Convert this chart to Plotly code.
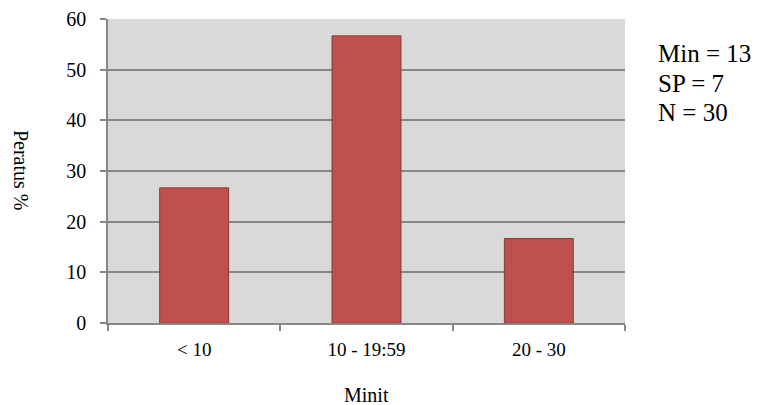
import plotly.graph_objects as go

categories = ["< 10", "10 - 19:59", "20 - 30"]
values = [26.67, 56.67, 16.67]
y_ticks = [0, 10, 20, 30, 40, 50, 60]
stats_lines = ["Min = 13", "SP = 7", "N = 30"]

FONT = "'Liberation Serif', 'Times New Roman', Times, serif"
GRID = "#878787"

fig = go.Figure()
fig.add_trace(go.Bar(
    x=categories, y=values, width=0.4,
    marker=dict(color="#C0504D", line=dict(color="#8C3836", width=1)),
))

# page body has an 8px default margin, compensated here
fig.update_layout(
    width=759, height=405,
    margin=dict(l=100, r=142, t=11, b=90),
    paper_bgcolor="white", plot_bgcolor="#D9D9D9",
    showlegend=False,
    font=dict(family=FONT, size=19, color="black"),
)
fig.update_xaxes(
    automargin=False,
    showgrid=False, showline=True, linecolor=GRID, linewidth=1.5,
    ticks="outside", tickson="boundaries", ticklen=6, tickcolor=GRID, tickwidth=1.5,
    tickfont=dict(family=FONT, size=19), ticklabelstandoff=8,
)
fig.update_yaxes(
    automargin=False,
    range=[0, 60], tickvals=y_ticks, showgrid=True, gridcolor=GRID, gridwidth=1.5,
    showline=True, linecolor=GRID, linewidth=1.5, zeroline=False,
    ticks="outside", ticklen=6, tickcolor=GRID, tickwidth=1.5,
    tickfont=dict(family=FONT, size=20), ticklabelstandoff=10,
)
fig.add_annotation(
    text="Peratus %", textangle=90, xref="paper", yref="paper",
    x=-0.168, y=0.503, showarrow=False, xanchor="center", yanchor="middle",
    font=dict(family=FONT, size=20),
)
fig.add_annotation(
    text="Minit", xref="paper", yref="paper",
    x=0.5, y=-0.237, showarrow=False, xanchor="center", yanchor="middle",
    font=dict(family=FONT, size=20),
)
for line, yy in zip(stats_lines, [0.885, 0.789, 0.694]):
    fig.add_annotation(
        text=line, xref="paper", yref="paper",
        x=1.060, y=yy, showarrow=False, xanchor="left", yanchor="middle", align="left",
        font=dict(family=FONT, size=25),
    )
fig.write_html("out.html")
